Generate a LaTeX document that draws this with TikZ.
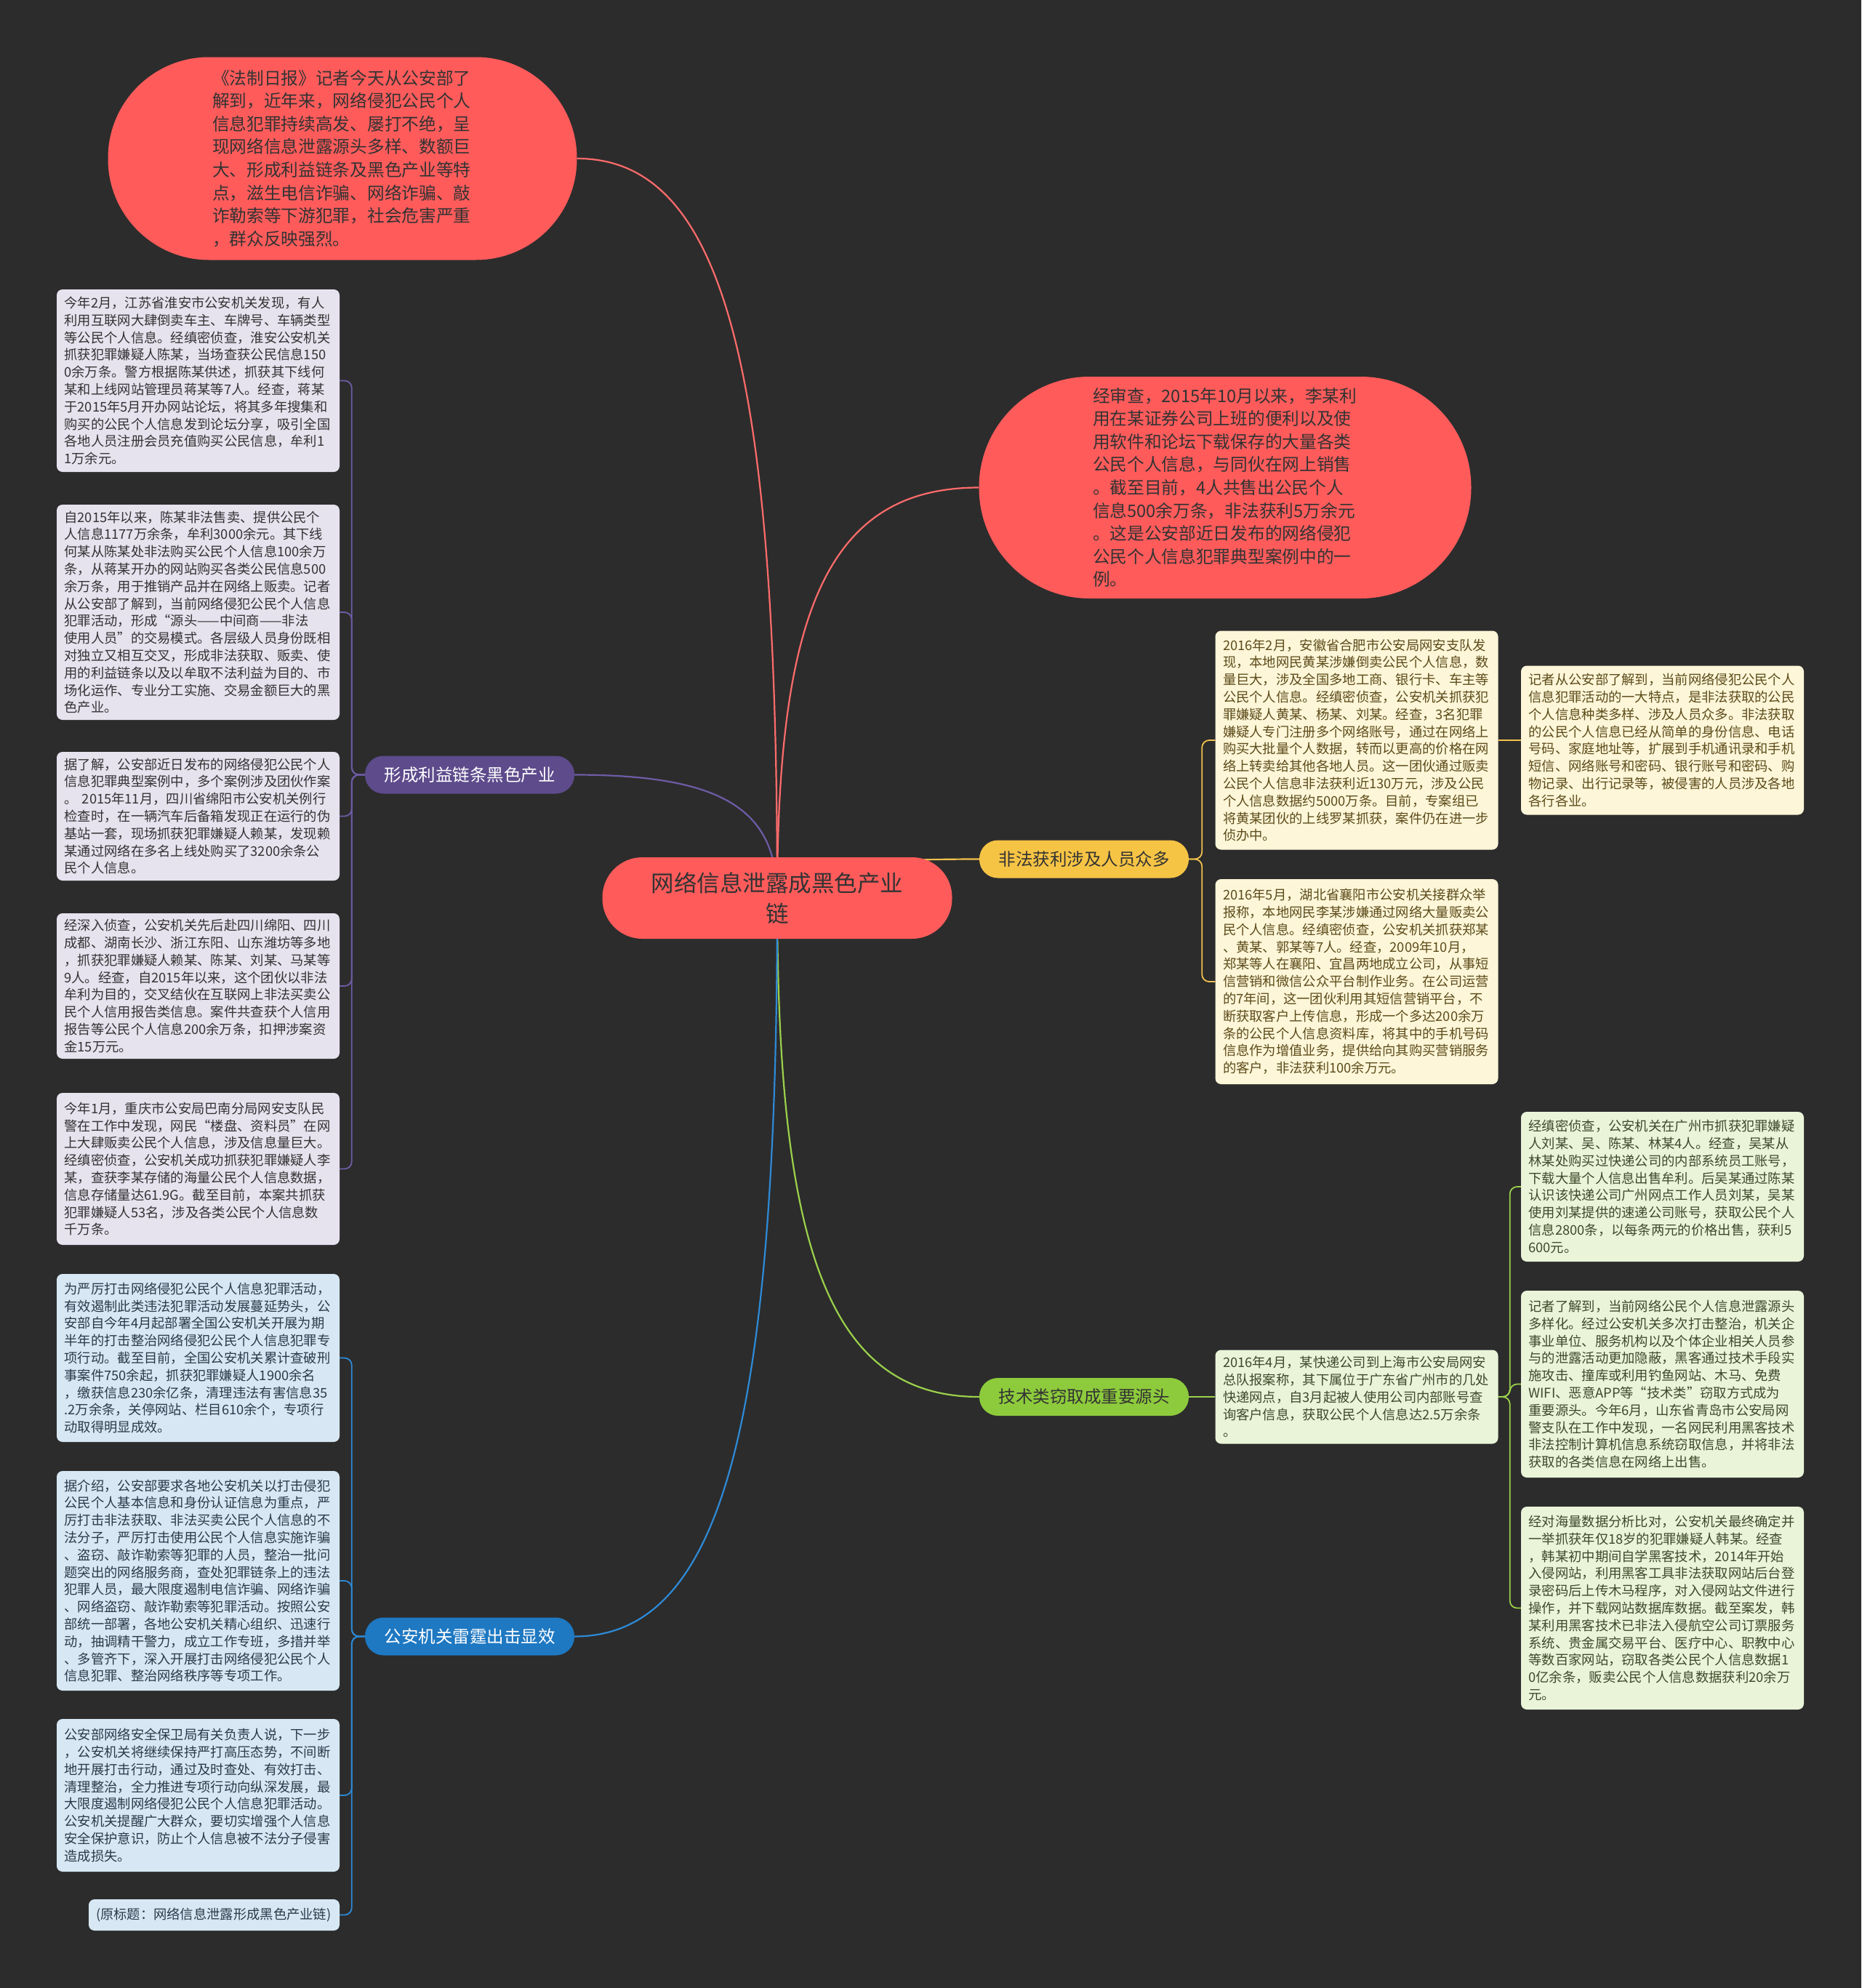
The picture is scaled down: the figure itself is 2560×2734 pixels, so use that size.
\documentclass[tikz,border=0pt]{standalone}
\usepackage{fontspec}
\newfontfamily\cjk{Noto Sans CJK SC}
\definecolor{bgc}{HTML}{2C2C2C}
\definecolor{redfill}{HTML}{FF5B5B}
\definecolor{redline}{HTML}{FF6B6B}
\definecolor{darktext}{HTML}{333333}
\definecolor{purplab}{HTML}{5D4B8C}
\definecolor{purline}{HTML}{6E5CA6}
\definecolor{purbox}{HTML}{E6E2EE}
\definecolor{bluelab}{HTML}{1E78C2}
\definecolor{blueline}{HTML}{2E8AD6}
\definecolor{bluebox}{HTML}{D7E8F4}
\definecolor{bluetext}{HTML}{2B3A48}
\definecolor{yellab}{HTML}{F6C445}
\definecolor{yelline}{HTML}{F2C14E}
\definecolor{yelbox}{HTML}{FDF6D8}
\definecolor{yeltext}{HTML}{5C4B1A}
\definecolor{grelab}{HTML}{8DCB3C}
\definecolor{greline}{HTML}{9BD14B}
\definecolor{grebox}{HTML}{EAF4D9}
\definecolor{gretext}{HTML}{3C4A2A}
\pgfdeclarelayer{bglayer}
\pgfdeclarelayer{lines}
\pgfsetlayers{bglayer,lines,main}
\begin{document}
\begin{tikzpicture}[x=1pt,y=-1pt,
  bigred/.style={fill=redfill, text=darktext, inner sep=0pt, align=left,
    font=\cjk\fontsize{23.7pt}{31.6pt}\selectfont},
  rootnode/.style={fill=redfill, text=darktext, inner sep=0pt, align=center,
    minimum width=481pt, minimum height=112pt, rounded corners=55pt, text width=360pt,
    font=\cjk\fontsize{31.5pt}{42pt}\selectfont},
  labnode/.style={inner sep=0pt, minimum width=288pt, minimum height=52pt, rounded corners=25.5pt,
    font=\cjk\fontsize{23.5pt}{28pt}\selectfont},
  textbox/.style={rounded corners=8pt, inner xsep=10pt, inner ysep=0pt, text width=368pt,
    minimum width=389pt, align=left, font=\cjk\fontsize{18.3pt}{23.8pt}\selectfont},
  pbox/.style={textbox, fill=purbox, text=darktext},
  bbox/.style={textbox, fill=bluebox, text=bluetext},
  ybox/.style={textbox, fill=yelbox, text=yeltext},
  gbox/.style={textbox, fill=grebox, text=gretext},
  mainline/.style={line width=2.2pt},
  subline/.style={line width=1.8pt, rounded corners=10pt},
]
\begin{pgfonlayer}{bglayer}
\fill[bgc] (0,0) rectangle (2560,2734);
\end{pgfonlayer}
\useasboundingbox (0,0) rectangle (2560,2734);

% root
\node[rootnode] (root) at (1069,1235) {网络信息泄露成黑色产业\\链};

% big red nodes
\node[bigred, minimum width=645pt, minimum height=279pt, rounded corners=139pt, text width=358pt]
  (topred) at (471,218) {《法制日报》记者今天从公安部了\\解到，近年来，网络侵犯公民个人\\信息犯罪持续高发、屡打不绝，呈\\现网络信息泄露源头多样、数额巨\\大、形成利益链条及黑色产业等特\\点，滋生电信诈骗、网络诈骗、敲\\诈勒索等下游犯罪，社会危害严重\\，群众反映强烈。};
\node[bigred, minimum width=677pt, minimum height=305pt, rounded corners=152pt, text width=364pt]
  (rightred) at (1685,670.5) {经审查，2015年10月以来，李某利\\用在某证券公司上班的便利以及使\\用软件和论坛下载保存的大量各类\\公民个人信息，与同伙在网上销售\\。截至目前，4人共售出公民个人\\信息500余万条，非法获利5万余元\\。这是公安部近日发布的网络侵犯\\公民个人信息犯罪典型案例中的一\\例。};

% labels
\node[labnode, fill=purplab, text=white] (lp) at (646,1065.5) {形成利益链条黑色产业};
\node[labnode, fill=bluelab, text=white] (lb) at (646,2250.5) {公安机关雷霆出击显效};
\node[labnode, fill=yellab, text=darktext] (ly) at (1491,1181.5) {非法获利涉及人员众多};
\node[labnode, fill=grelab, text=darktext] (lg) at (1491,1921) {技术类窃取成重要源头};

% purple boxes
\node[pbox, minimum height=251pt] (p1) at (272.5,523.5) {今年2月，江苏省淮安市公安机关发现，有人\\利用互联网大肆倒卖车主、车牌号、车辆类型\\等公民个人信息。经缜密侦查，淮安公安机关\\抓获犯罪嫌疑人陈某，当场查获公民信息150\\0余万条。警方根据陈某供述，抓获其下线何\\某和上线网站管理员蒋某等7人。经查，蒋某\\于2015年5月开办网站论坛，将其多年搜集和\\购买的公民个人信息发到论坛分享，吸引全国\\各地人员注册会员充值购买公民信息，牟利1\\1万余元。};
\node[pbox, minimum height=296pt] (p2) at (272.5,842) {自2015年以来，陈某非法售卖、提供公民个\\人信息1177万余条，牟利3000余元。其下线\\何某从陈某处非法购买公民个人信息100余万\\条，从蒋某开办的网站购买各类公民信息500\\余万条，用于推销产品并在网络上贩卖。记者\\从公安部了解到，当前网络侵犯公民个人信息\\犯罪活动，形成“源头——中间商——非法\\使用人员”的交易模式。各层级人员身份既相\\对独立又相互交叉，形成非法获取、贩卖、使\\用的利益链条以及以牟取不法利益为目的、市\\场化运作、专业分工实施、交易金额巨大的黑\\色产业。};
\node[pbox, minimum height=177pt] (p3) at (272.5,1122.5) {据了解，公安部近日发布的网络侵犯公民个人\\信息犯罪典型案例中，多个案例涉及团伙作案\\。 2015年11月，四川省绵阳市公安机关例行\\检查时，在一辆汽车后备箱发现正在运行的伪\\基站一套，现场抓获犯罪嫌疑人赖某，发现赖\\某通过网络在多名上线处购买了3200余条公\\民个人信息。};
\node[pbox, minimum height=200pt] (p4) at (272.5,1356) {经深入侦查，公安机关先后赴四川绵阳、四川\\成都、湖南长沙、浙江东阳、山东潍坊等多地\\，抓获犯罪嫌疑人赖某、陈某、刘某、马某等\\9人。经查，自2015年以来，这个团伙以非法\\牟利为目的，交叉结伙在互联网上非法买卖公\\民个人信用报告类信息。案件共查获个人信用\\报告等公民个人信息200余万条，扣押涉案资\\金15万元。};
\node[pbox, minimum height=209pt] (p5) at (272.5,1607.5) {今年1月，重庆市公安局巴南分局网安支队民\\警在工作中发现，网民“楼盘、资料员”在网\\上大肆贩卖公民个人信息，涉及信息量巨大。\\经缜密侦查，公安机关成功抓获犯罪嫌疑人李\\某，查获李某存储的海量公民个人信息数据，\\信息存储量达61.9G。截至目前，本案共抓获\\犯罪嫌疑人53名，涉及各类公民个人信息数\\千万条。};

% blue boxes
\node[bbox, minimum height=231pt] (b1) at (272.5,1867.5) {为严厉打击网络侵犯公民个人信息犯罪活动，\\有效遏制此类违法犯罪活动发展蔓延势头，公\\安部自今年4月起部署全国公安机关开展为期\\半年的打击整治网络侵犯公民个人信息犯罪专\\项行动。截至目前，全国公安机关累计查破刑\\事案件750余起，抓获犯罪嫌疑人1900余名\\，缴获信息230余亿条，清理违法有害信息35\\.2万余条，关停网站、栏目610余个，专项行\\动取得明显成效。};
\node[bbox, minimum height=302pt] (b2) at (272.5,2174) {据介绍，公安部要求各地公安机关以打击侵犯\\公民个人基本信息和身份认证信息为重点，严\\厉打击非法获取、非法买卖公民个人信息的不\\法分子，严厉打击使用公民个人信息实施诈骗\\、盗窃、敲诈勒索等犯罪的人员，整治一批问\\题突出的网络服务商，查处犯罪链条上的违法\\犯罪人员，最大限度遏制电信诈骗、网络诈骗\\、网络盗窃、敲诈勒索等犯罪活动。按照公安\\部统一部署，各地公安机关精心组织、迅速行\\动，抽调精干警力，成立工作专班，多措并举\\、多管齐下，深入开展打击网络侵犯公民个人\\信息犯罪、整治网络秩序等专项工作。};
\node[bbox, minimum height=210pt] (b3) at (272.5,2469) {公安部网络安全保卫局有关负责人说，下一步\\，公安机关将继续保持严打高压态势，不间断\\地开展打击行动，通过及时查处、有效打击、\\清理整治，全力推进专项行动向纵深发展，最\\大限度遏制网络侵犯公民个人信息犯罪活动。\\公安机关提醒广大群众，要切实增强个人信息\\安全保护意识，防止个人信息被不法分子侵害\\造成损失。};
\node[bbox, text width=325pt, minimum width=345pt, minimum height=43pt] (b4) at (294.5,2633.5) {(原标题：网络信息泄露形成黑色产业链)};

% yellow boxes
\node[ybox, minimum height=301pt] (y1) at (1866,1018) {2016年2月，安徽省合肥市公安局网安支队发\\现，本地网民黄某涉嫌倒卖公民个人信息，数\\量巨大，涉及全国多地工商、银行卡、车主等\\公民个人信息。经缜密侦查，公安机关抓获犯\\罪嫌疑人黄某、杨某、刘某。经查，3名犯罪\\嫌疑人专门注册多个网络账号，通过在网络上\\购买大批量个人数据，转而以更高的价格在网\\络上转卖给其他各地人员。这一团伙通过贩卖\\公民个人信息非法获利近130万元，涉及公民\\个人信息数据约5000万条。目前，专案组已\\将黄某团伙的上线罗某抓获，案件仍在进一步\\侦办中。};
\node[ybox, minimum height=282pt] (y2) at (1866,1350) {2016年5月，湖北省襄阳市公安机关接群众举\\报称，本地网民李某涉嫌通过网络大量贩卖公\\民个人信息。经缜密侦查，公安机关抓获郑某\\、黄某、郭某等7人。经查，2009年10月，\\郑某等人在襄阳、宜昌两地成立公司，从事短\\信营销和微信公众平台制作业务。在公司运营\\的7年间，这一团伙利用其短信营销平台，不\\断获取客户上传信息，形成一个多达200余万\\条的公民个人信息资料库，将其中的手机号码\\信息作为增值业务，提供给向其购买营销服务\\的客户，非法获利100余万元。};
\node[ybox, minimum height=205pt] (y3) at (2286.5,1018) {记者从公安部了解到，当前网络侵犯公民个人\\信息犯罪活动的一大特点，是非法获取的公民\\个人信息种类多样、涉及人员众多。非法获取\\的公民个人信息已经从简单的身份信息、电话\\号码、家庭地址等，扩展到手机通讯录和手机\\短信、网络账号和密码、银行账号和密码、购\\物记录、出行记录等，被侵害的人员涉及各地\\各行各业。};

% green boxes
\node[gbox, minimum height=129pt] (g1) at (1866,1921) {2016年4月，某快递公司到上海市公安局网安\\总队报案称，其下属位于广东省广州市的几处\\快递网点，自3月起被人使用公司内部账号查\\询客户信息，获取公民个人信息达2.5万余条\\。};
\node[gbox, minimum height=206pt] (g2) at (2286.5,1632) {经缜密侦查，公安机关在广州市抓获犯罪嫌疑\\人刘某、吴、陈某、林某4人。经查，吴某从\\林某处购买过快递公司的内部系统员工账号，\\下载大量个人信息出售牟利。后吴某通过陈某\\认识该快递公司广州网点工作人员刘某，吴某\\使用刘某提供的速递公司账号，获取公民个人\\信息2800条，以每条两元的价格出售，获利5\\600元。};
\node[gbox, minimum height=257pt] (g3) at (2286.5,1903.5) {记者了解到，当前网络公民个人信息泄露源头\\多样化。经过公安机关多次打击整治，机关企\\事业单位、服务机构以及个体企业相关人员参\\与的泄露活动更加隐蔽，黑客通过技术手段实\\施攻击、撞库或利用钓鱼网站、木马、免费\\WIFI、恶意APP等“技术类”窃取方式成为\\重要源头。今年6月，山东省青岛市公安局网\\警支队在工作中发现，一名网民利用黑客技术\\非法控制计算机信息系统窃取信息，并将非法\\获取的各类信息在网络上出售。};
\node[gbox, minimum height=279pt] (g4) at (2286.5,2211.5) {经对海量数据分析比对，公安机关最终确定并\\一举抓获年仅18岁的犯罪嫌疑人韩某。经查\\，韩某初中期间自学黑客技术，2014年开始\\入侵网站，利用黑客工具非法获取网站后台登\\录密码后上传木马程序，对入侵网站文件进行\\操作，并下载网站数据库数据。截至案发，韩\\某利用黑客技术已非法入侵航空公司订票服务\\系统、贵金属交易平台、医疗中心、职教中心\\等数百家网站，窃取各类公民个人信息数据1\\0亿余条，贩卖公民个人信息数据获利20余万\\元。};

\begin{pgfonlayer}{lines}
% main curves from root
\draw[mainline, redline] (root.center) .. controls +(0,-712) and +(207,0) .. (topred.east);
\draw[mainline, redline] (root.center) .. controls +(0,-395) and +(-207,0) .. (rightred.west);
\draw[mainline, purline] (root.center) .. controls +(0,-119) and +(209,0) .. (lp.east);
\draw[mainline, yelline] (root.center) .. controls +(0,-38) and +(-207,0) .. (ly.west);
\draw[mainline, greline] (root.center) .. controls +(0,481) and +(-207,0) .. (lg.west);
\draw[mainline, blueline] (root.center) .. controls +(0,710) and +(207,0) .. (lb.east);
% purple branches
\foreach \t in {p1,p2,p3,p4,p5}
  \draw[subline, purline] (lp.west) -- ++(-18,0) |- (\t.east);
% blue branches
\foreach \t in {b1,b2,b3,b4}
  \draw[subline, blueline] (lb.west) -- ++(-18,0) |- (\t.east);
% yellow branches
\foreach \t in {y1,y2}
  \draw[subline, yelline] (ly.east) -- ++(18,0) |- (\t.west);
\draw[subline, yelline] (y1.east) -- (y3.west);
% green branches
\draw[subline, greline] (lg.east) -- (g1.west);
\foreach \t in {g2,g3,g4}
  \draw[subline, greline] (g1.east) -- ++(16,0) |- (\t.west);
\end{pgfonlayer}
\end{tikzpicture}
\end{document}
